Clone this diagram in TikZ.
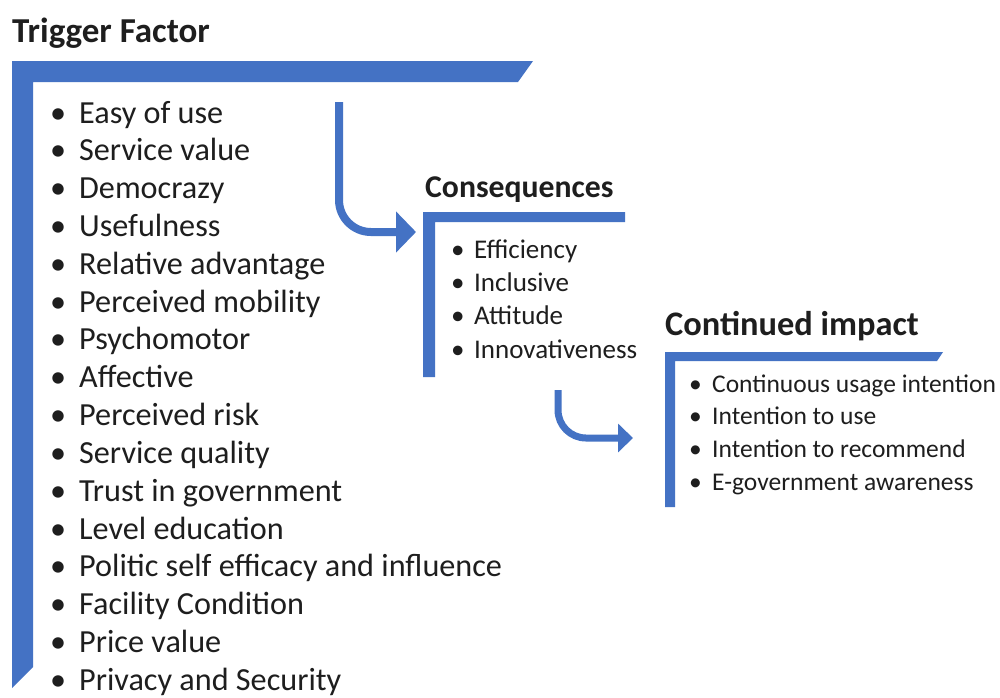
\documentclass[tikz,border=0pt]{standalone}
\usepackage{fontspec}
\setmainfont{Carlito}
\usetikzlibrary{arrows.meta}
\definecolor{barblue}{HTML}{4472C4}
\definecolor{txt}{HTML}{1E1E1E}
\tikzset{
  bar/.style={fill=barblue, draw=none},
  flowarrow/.style={draw=barblue, line cap=butt},
  ttl/.style={anchor=base west, inner sep=0pt, text=txt, font=\bfseries},
  itemA/.style={anchor=base west, inner sep=0pt, text=txt, font=\fontsize{32.2}{38}\selectfont},
  itemB/.style={anchor=base west, inner sep=0pt, text=txt, font=\fontsize{27}{32}\selectfont},
  itemC/.style={anchor=base west, inner sep=0pt, text=txt, font=\fontsize{25.5}{30}\selectfont},
}
\begin{document}
\begin{tikzpicture}[x=1pt,y=-1pt]
\useasboundingbox (0,0) rectangle (1000,697);
\fill[white] (0,0) rectangle (1000,697);

% Trigger Factor bracket
\fill[bar] (12,61) -- (533,61) -- (518,82) -- (33,82) -- (33,667) -- (12,688) -- cycle;
\node[ttl, font=\bfseries\fontsize{35}{40}\selectfont] (tf) at (12,42) {Trigger Factor};
\foreach \t [count=\k from 0] in {Easy of use,Service value,Democrazy,Usefulness,Relative advantage,Perceived mobility,Psychomotor,Affective,Perceived risk,Service quality,Trust in government,Level education,Politic self efficacy and influence,Facility Condition,Price value,Privacy and Security}
  \node[itemA] (a\k) at (50,123+37.83*\k) {\makebox[29pt][l]{•}\t};

% Consequences bracket
\fill[bar] (423,212) -- (625,212) -- (625,222) -- (435,222) -- (435,377) -- (423,377) -- cycle;
\node[ttl, font=\bfseries\fontsize{31.7}{38}\selectfont] (cq) at (425,197) {Consequences};
\foreach \t [count=\k from 0] in {Efficiency,Inclusive,Attitude,Innovativeness}
  \node[itemB] (b\k) at (451,258+33.4*\k) {\makebox[23pt][l]{•}\t};

% Continued impact bracket
\fill[bar] (665,352) -- (943,352) -- (937,361) -- (675,361) -- (675,507) -- (665,507) -- cycle;
\node[ttl, font=\bfseries\fontsize{34.4}{40}\selectfont] (ci) at (665,335) {Continued impact};
\foreach \t [count=\k from 0] in {Continuous usage intention,Intention to use,Intention to recommend,E-government awareness}
  \node[itemC] (c\k) at (689,392+32.7*\k) {\makebox[23pt][l]{•}\t};

% Arrows
\coordinate (a1s) at (339,102);
\coordinate (a1e) at (416,232);
\draw[flowarrow, line width=8pt, rounded corners=32pt, -{Triangle[width=40pt,length=20pt]}] (a1s) |- (a1e);
\coordinate (a2s) at (558,390);
\coordinate (a2e) at (633,438);
\draw[flowarrow, line width=7pt, rounded corners=28pt, -{Triangle[width=28pt,length=15pt]}] (a2s) |- (a2e);
\end{tikzpicture}
\end{document}
